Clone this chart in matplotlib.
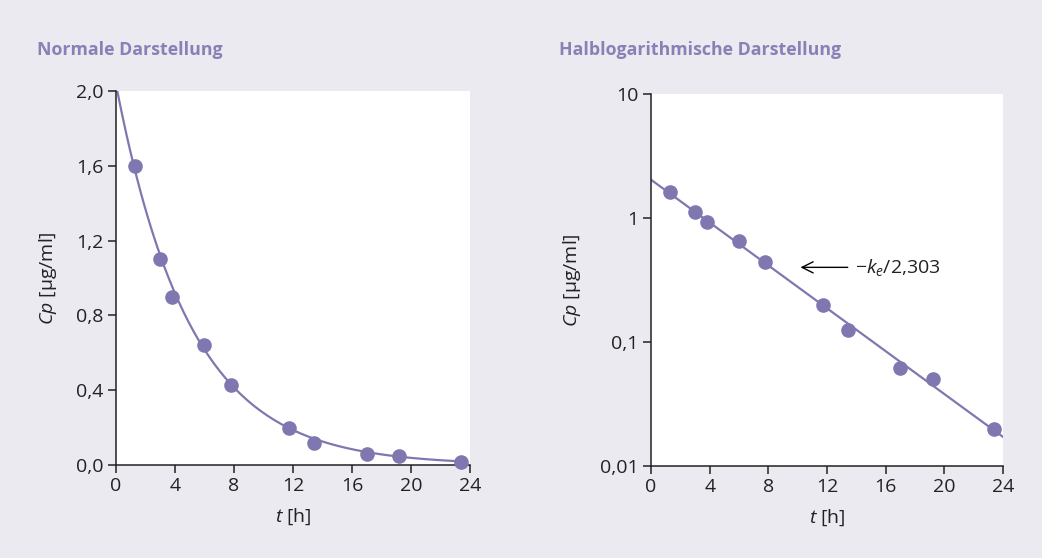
import numpy as np
import matplotlib
matplotlib.use("Agg")
import matplotlib.pyplot as plt
from matplotlib.ticker import FixedLocator, NullLocator

t_h = [1.3, 3.0, 3.8, 6.0, 7.8, 11.7, 13.4, 17.0, 19.2, 23.4]
cp = [1.6, 1.1, 0.9, 0.64, 0.43, 0.2, 0.12, 0.06, 0.05, 0.016]
cp_log = [1.62, 1.12, 0.93, 0.65, 0.44, 0.2, 0.125, 0.062, 0.05, 0.02]

x_ticks = [0, 4, 8, 12, 16, 20, 24]
y_ticks_lin = [0.0, 0.4, 0.8, 1.2, 1.6, 2.0]
y_labels_lin = ["0,0", "0,4", "0,8", "1,2", "1,6", "2,0"]
y_ticks_log = [0.01, 0.1, 1, 10]
y_labels_log = ["0,01", "0,1", "1", "10"]

titles = ["Normale Darstellung", "Halblogarithmische Darstellung"]

purple = "#7f78b0"
title_col = "#8781b6"
bg = "#ebeaf1"
ink = "#222222"

plt.rcParams["font.family"] = ["Open Sans", "DejaVu Sans"]
plt.rcParams["mathtext.fontset"] = "custom"
plt.rcParams["mathtext.rm"] = "Open Sans"
plt.rcParams["mathtext.it"] = "Open Sans:italic"

# first-order elimination fitted to the log data
slope, icpt = np.polyfit(t_h, np.log(cp_log), 1)
c0, ke = np.exp(icpt), -slope

fig = plt.figure(figsize=(10.42, 5.58), dpi=100, facecolor=bg)
ax1 = fig.add_axes([0.1113, 0.1667, 0.3397, 0.6703])
ax2 = fig.add_axes([0.6248, 0.1649, 0.3378, 0.6666])

tt1 = np.linspace(0, t_h[-1], 200)
ax1.plot(tt1, c0 * np.exp(-ke * tt1), color=purple, lw=1.6)
ax1.plot(t_h, cp, "o", color=purple, ms=9.5, clip_on=False, zorder=3)
ax1.set_ylim(0, 2.0)
ax1.yaxis.set_major_locator(FixedLocator(y_ticks_lin))
ax1.set_yticklabels(y_labels_lin)

tt2 = np.linspace(0, 24, 200)
ax2.plot(tt2, c0 * np.exp(-ke * tt2), color=purple, lw=1.6)
ax2.plot(t_h, cp_log, "o", color=purple, ms=9.5, clip_on=False, zorder=3)
ax2.set_yscale("log")
ax2.set_ylim(0.01, 10)
ax2.yaxis.set_major_locator(FixedLocator(y_ticks_log))
ax2.yaxis.set_minor_locator(NullLocator())
ax2.set_yticklabels(y_labels_log)

ax2.annotate("", xy=(10.0, 0.40), xytext=(13.6, 0.40),
             arrowprops=dict(arrowstyle="->", color="black", lw=1.0,
                             mutation_scale=20))
ax2.text(13.9, 0.40, r"$-\mathit{k}_{\mathit{e}}$/2,303", fontsize=14,
         va="center", ha="left", color=ink)

for ax, title in zip([ax1, ax2], titles):
    ax.set_facecolor("white")
    ax.set_xlim(0, 24)
    ax.set_xticks(x_ticks)
    for s in ["top", "right"]:
        ax.spines[s].set_visible(False)
    for s in ["left", "bottom"]:
        ax.spines[s].set_linewidth(1.1)
        ax.spines[s].set_color(ink)
    ax.tick_params(direction="out", length=6, width=1.1, labelsize=14,
                   colors=ink, pad=3)
    ax.set_xlabel(r"$\mathit{t}$ [h]", fontsize=14, color=ink, labelpad=8)
    ax.set_ylabel(r"$\mathit{Cp}$ [µg/ml]", fontsize=14, color=ink, labelpad=12)

fig.text(37 / 1042, 1 - 50 / 558, titles[0], fontsize=12.8, fontweight="bold",
         color=title_col, va="center", ha="left")
fig.text(559 / 1042, 1 - 50 / 558, titles[1], fontsize=12.8, fontweight="bold",
         color=title_col, va="center", ha="left")

fig.savefig("out.png", dpi=100, facecolor=bg)
